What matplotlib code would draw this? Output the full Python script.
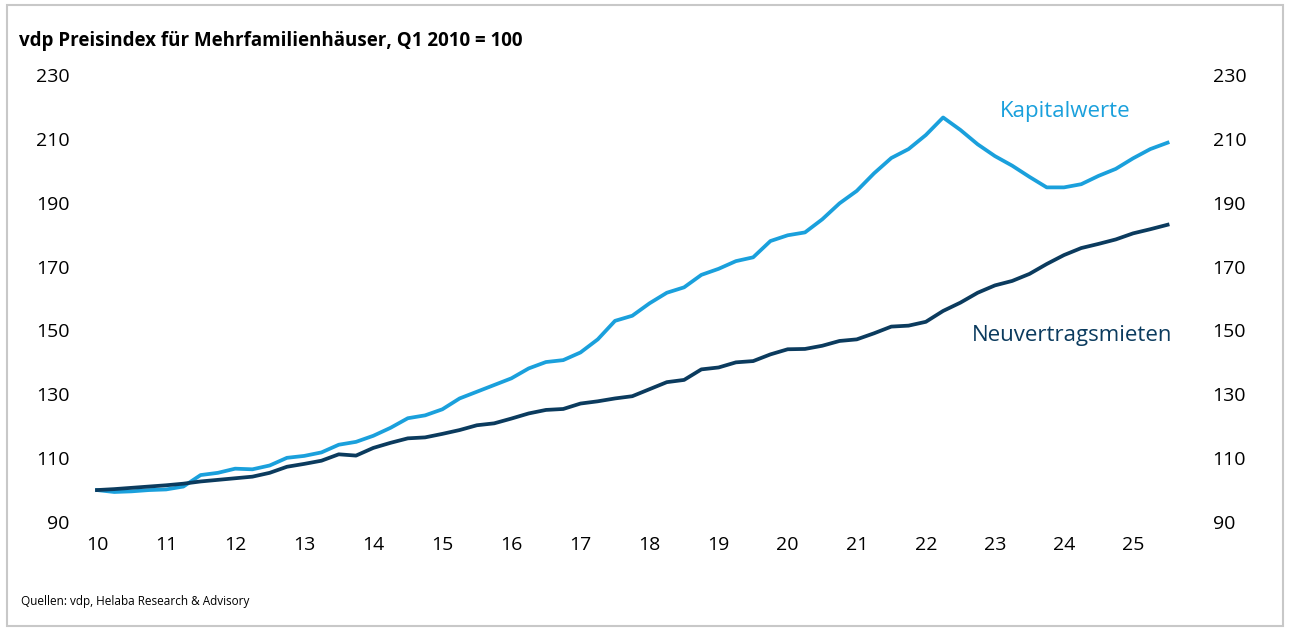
import matplotlib.pyplot as plt
from matplotlib.patches import Rectangle
import numpy as np

# vdp Preisindex Mehrfamilienhäuser, quarterly, Q1 2010 = 100
start_year = 10
kapitalwerte = [
    100.0, 99.4, 99.6, 100.0,
    100.2, 101.1, 104.7, 105.4,
    106.7, 106.5, 107.7, 110.1,
    110.7, 111.8, 114.2, 115.1,
    117.0, 119.5, 122.5, 123.4,
    125.3, 128.7, 130.8, 132.9,
    135.0, 138.1, 140.1, 140.7,
    143.1, 147.2, 153.0, 154.6,
    158.5, 161.8, 163.5, 167.4,
    169.3, 171.7, 172.9, 178.0,
    179.8, 180.7, 184.8, 189.8,
    193.7, 199.2, 204.0, 206.8,
    211.2, 216.7, 212.8, 208.3,
    204.6, 201.6, 198.1, 194.8,
    194.8, 195.8, 198.4, 200.6,
    203.9, 206.8, 208.8,
]
neuvertragsmieten = [
    100.0, 100.3, 100.7, 101.1,
    101.5, 102.0, 102.7, 103.2,
    103.7, 104.2, 105.4, 107.3,
    108.2, 109.2, 111.2, 110.8,
    113.2, 114.8, 116.2, 116.5,
    117.6, 118.8, 120.3, 120.9,
    122.4, 124.0, 125.1, 125.4,
    127.1, 127.8, 128.7, 129.4,
    131.6, 133.8, 134.5, 137.8,
    138.4, 140.0, 140.4, 142.5,
    144.1, 144.2, 145.2, 146.7,
    147.2, 149.1, 151.2, 151.5,
    152.7, 156.1, 158.7, 161.8,
    164.1, 165.5, 167.7, 170.8,
    173.6, 175.8, 177.1, 178.5,
    180.4, 181.7, 183.1,
]
year_ticks = list(range(10, 26))
y_ticks = [90, 110, 130, 150, 170, 190, 210, 230]

title = "vdp Preisindex für Mehrfamilienhäuser, Q1 2010 = 100"
source = "Quellen: vdp, Helaba Research & Advisory"

light_blue = "#1aa0dc"
dark_blue = "#0b3b5e"

plt.rcParams['font.family'] = ['Open Sans', 'DejaVu Sans']

W, H = 1290, 631
fig = plt.figure(figsize=(W / 100, H / 100), dpi=100, facecolor="w")

# axes placed in pixel terms
L, R, T, B = 85, 1180, 75, 522
ax = fig.add_axes([L / W, 1 - B / H, (R - L) / W, (B - T) / H])
px_per_year = 69.07
ax.set_xlim(10 + (L - 97) / px_per_year, 10 + (R - 97) / px_per_year)
ax.set_ylim(90, 230)

n = len(kapitalwerte)
x = start_year + np.arange(n) / 4
ax.plot(x, kapitalwerte, color=light_blue, lw=2.7)
ax.plot(x, neuvertragsmieten, color=dark_blue, lw=2.7)

for s in ax.spines.values():
    s.set_visible(False)
ax.set_xticks(year_ticks)
ax.set_xticklabels([str(t) for t in year_ticks])
ax.set_yticks(y_ticks)
ax.tick_params(axis="x", length=0, pad=10, labelsize=14, colors="black")
ax.tick_params(axis="y", length=0, pad=11, labelsize=14, colors="black")

# right-hand scale with its own spacing
ax2 = ax.twinx()
ax2.set_ylim(ax.get_ylim())
ax2.set_yticks(y_ticks)
ax2.tick_params(axis="y", length=0, pad=23.5, labelsize=14, colors="black")
for s in ax2.spines.values():
    s.set_visible(False)

fig.text(1131 / W, 1 - 111 / H, "Kapitalwerte", color=light_blue,
         fontsize=16, ha="right", va="center")
fig.text(1172 / W, 1 - 336 / H, "Neuvertragsmieten", color=dark_blue,
         fontsize=16, ha="right", va="center")

fig.text(19 / W, 1 - 41 / H, title, fontsize=13.5, fontweight="bold",
         ha="left", va="center", color="black")
fig.text(21 / W, 1 - 602 / H, source, fontsize=8.5, ha="left", va="center",
         color="black")

fig.patches.append(Rectangle((7 / W, 1 - 626 / H), (1283 - 7) / W, (626 - 5) / H,
                             transform=fig.transFigure, fill=False,
                             edgecolor="#c8c8c8", lw=1.5))

fig.savefig("out.png", dpi=100, facecolor="w")
